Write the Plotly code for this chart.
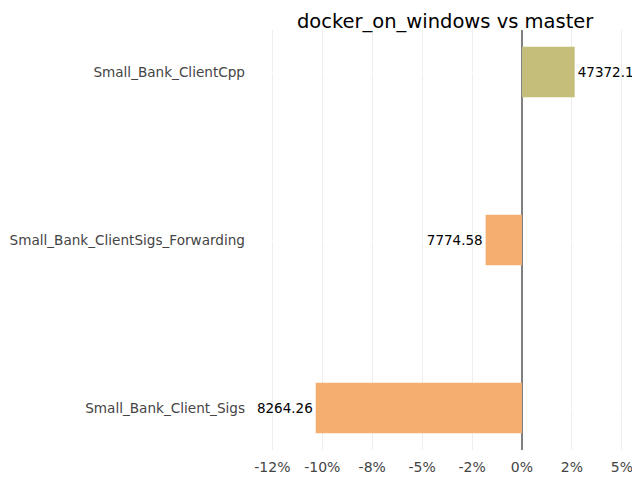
import plotly.graph_objects as go

categories = ["Small_Bank_Client_Sigs", "Small_Bank_ClientSigs_Forwarding", "Small_Bank_ClientCpp"]
pct_change = [-0.1033, -0.0182, 0.0264]
labels = ["8264.26", "7774.58", "47372.1"]
colors = ["rgb(244,174,112)", "rgb(244,174,112)", "rgb(196,190,122)"]
tick_vals = [-0.125, -0.1, -0.075, -0.05, -0.025, 0, 0.025, 0.05]
tick_text = ["-12%", "-10%", "-8%", "-5%", "-2%", "0%", "2%", "5%"]

fig = go.Figure(go.Bar(
    y=categories, x=pct_change, orientation="h",
    marker=dict(color=colors, line=dict(width=0)),
    width=0.3,
    text=labels, textposition="outside",
    textfont=dict(family="DejaVu Sans", size=13.5, color="black"),
    cliponaxis=False,
))

fig.update_layout(
    width=640, height=480,
    margin=dict(l=248, r=8, t=22, b=38, autoexpand=False),
    paper_bgcolor="white", plot_bgcolor="white",
    title=dict(text="docker_on_windows vs master", x=0.683, xanchor="center", y=0.972, yanchor="middle",
               font=dict(family="DejaVu Sans", size=19.5, color="black")),
    font=dict(family="DejaVu Sans", size=13.6, color="#444"),
    showlegend=False,
    xaxis=dict(range=[-0.1332, 0.0591], tickvals=tick_vals, ticktext=tick_text,
               showgrid=True, gridcolor="#eeeeee", gridwidth=1,
               zeroline=True, zerolinecolor="#808080", zerolinewidth=2,
               showline=False, ticks="", ticklabelstandoff=7,
               tickfont=dict(size=14, color="#444"), automargin=False),
    yaxis=dict(range=[-0.25, 2.25], showgrid=True, gridcolor="white",
               zeroline=False, showline=False, ticks="", ticklabelstandoff=10,
               tickfont=dict(size=13.6, color="#444"), automargin=False),
)

fig.write_html("out.html")
